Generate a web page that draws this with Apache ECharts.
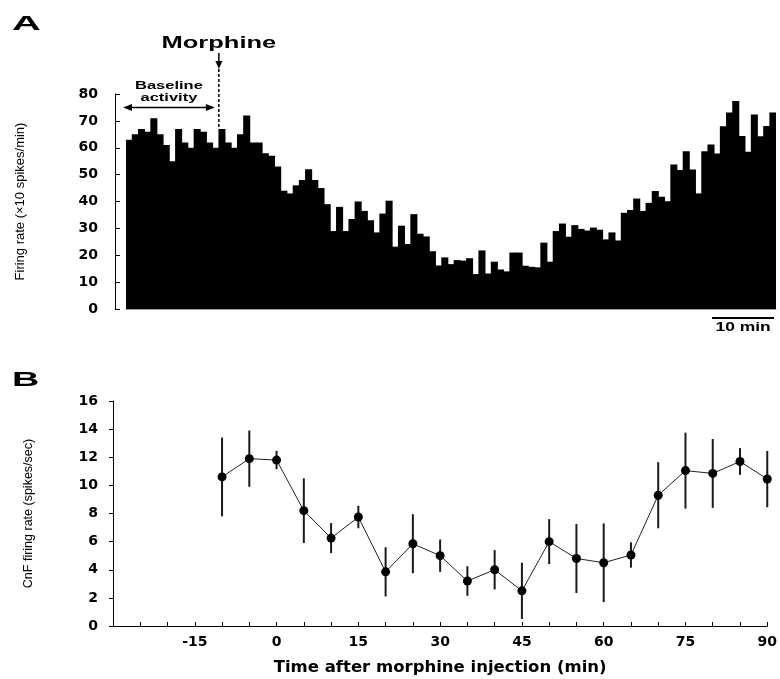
<!DOCTYPE html>
<html>
<head>
<meta charset="utf-8">
<script src="https://cdn.jsdelivr.net/npm/echarts@6/dist/echarts.min.js"></script>
<style>
  html, body { margin: 0; padding: 0; background: #fff; }
  #chart { width: 780px; height: 679px; }
</style>
</head>
<body>
<div id="chart"></div>
<script>
// Panel A: firing rate per 1-min bin (x10 spikes/min)
const binRates = [
  63, 65, 67, 66, 71, 65, 61, 55, 67, 62,
  60, 67, 66, 62, 60, 67, 62, 60, 65, 72,
  62, 62, 58, 57, 53, 44, 43, 46, 48, 52,
  48, 45, 39, 29, 38, 29, 33.5, 40, 36.5, 33,
  28.5, 35.5, 40.3, 23.2, 31, 24.2, 35.3, 28, 27, 21.5,
  16.2, 19.2, 16.7, 18.2, 18, 18.9, 13, 21.8, 13.2, 17.6,
  14.7, 14, 21, 21, 16.1, 15.7, 15.5, 24.7, 17.6, 29,
  31.8, 26.9, 31.2, 29.8, 29.2, 30.3, 29.5, 25.9, 28.5, 25.5,
  35.8, 36.8, 41.1, 36.5, 39.5, 43.9, 41.8, 40.1, 53.8, 51.7,
  58.7, 51.9, 43, 58.7, 61.2, 57.9, 68, 73.1, 77.4, 64.4,
  58.5, 72.4, 64.3, 68.1, 73.1
];
const binMinutes = binRates.map((_, i) => String(i + 1));
const morphineBin = 15;   // first bin after injection

// Panel B: mean CnF firing rate (spikes/sec) with error
const timeB = [-10, -5, 0, 5, 10, 15, 20, 25, 30, 35, 40, 45, 50, 55, 60, 65, 70, 75, 80, 85, 90];
const meanB = [10.6, 11.9, 11.8, 8.2, 6.25, 7.75, 3.85, 5.85, 5.0, 3.2, 4.0, 2.5,
               6.0, 4.8, 4.5, 5.05, 9.3, 11.05, 10.85, 11.7, 10.45];
const errB = [2.8, 2.0, 0.65, 2.3, 1.07, 0.8, 1.75, 2.1, 1.15, 1.05, 1.4, 2.0,
              1.6, 2.45, 2.8, 0.9, 2.35, 2.7, 2.45, 0.95, 2.0];

const tickFont = { color: '#000', fontFamily: 'DejaVu Sans', fontWeight: 'bold', fontSize: 14 };
const nameFont = { color: '#000', fontFamily: 'Liberation Sans', fontSize: 12.5 };

const chart = echarts.init(document.getElementById('chart'));

chart.setOption({
  animation: false,
  grid: [
    { left: 126, right: 4, top: 94, bottom: 370 },
    { left: 113, right: 10, top: 401, bottom: 53 }
  ],
  xAxis: [
    {
      type: 'category',
      gridIndex: 0,
      data: binMinutes,
      axisLine: { lineStyle: { color: '#999', width: 1 } },
      axisTick: { show: false },
      axisLabel: { show: false }
    },
    {
      type: 'value',
      gridIndex: 1,
      min: -30,
      max: 90,
      interval: 5,
      splitLine: { show: false },
      axisLine: { onZero: false, lineStyle: { color: '#000', width: 1 } },
      axisTick: { inside: true, length: 4, lineStyle: { color: '#000' } },
      axisLabel: Object.assign({}, tickFont, {
        margin: 9,
        formatter: v => (v % 15 === 0 && v > -30) ? String(v) : ''
      }),
      name: 'Time after morphine injection (min)',
      nameLocation: 'middle',
      nameGap: 33,
      nameTextStyle: { color: '#000', fontFamily: 'DejaVu Sans', fontWeight: 'bold', fontSize: 16.5 }
    }
  ],
  yAxis: [
    {
      type: 'value',
      gridIndex: 0,
      min: 0,
      max: 80,
      interval: 10,
      offset: 11,
      splitLine: { show: false },
      axisLine: { show: true, onZero: false, lineStyle: { color: '#000', width: 1 } },
      axisTick: { show: true, inside: true, length: 5, lineStyle: { color: '#000' } },
      axisLabel: Object.assign({}, tickFont, { margin: 17 }),
      name: 'Firing rate (\u00d710 spikes/min)',
      nameLocation: 'middle',
      nameGap: 88,
      nameTextStyle: Object.assign({}, nameFont, { fontSize: 13 })
    },
    {
      type: 'value',
      gridIndex: 1,
      min: 0,
      max: 16,
      interval: 2,
      splitLine: { show: false },
      axisLine: { show: true, onZero: false, lineStyle: { color: '#000', width: 1 } },
      axisTick: { show: true, length: 4, lineStyle: { color: '#000' } },
      axisLabel: Object.assign({}, tickFont, { margin: 15 }),
      name: 'CnF firing rate (spikes/sec)',
      nameLocation: 'middle',
      nameGap: 78,
      nameTextStyle: nameFont
    }
  ],
  series: [
    {
      type: 'bar',
      xAxisIndex: 0,
      yAxisIndex: 0,
      data: binRates,
      barWidth: '114%',   // slight overlap so neighbouring bins merge without hairline gaps
      itemStyle: { color: '#000' }
    },
    {
      type: 'custom',
      xAxisIndex: 1,
      yAxisIndex: 1,
      data: timeB.map((t, i) => [t, meanB[i] - errB[i], meanB[i] + errB[i]]),
      encode: { x: 0, y: [1, 2] },
      renderItem: (params, api) => {
        const lo = api.coord([api.value(0), api.value(1)]);
        const hi = api.coord([api.value(0), api.value(2)]);
        return {
          type: 'line',
          shape: { x1: lo[0], y1: lo[1], x2: hi[0], y2: hi[1] },
          style: { stroke: '#1a1a1a', lineWidth: 2 }
        };
      },
      z: 2
    },
    {
      type: 'line',
      xAxisIndex: 1,
      yAxisIndex: 1,
      data: timeB.map((t, i) => [t, meanB[i]]),
      symbol: 'circle',
      symbolSize: 9,
      lineStyle: { color: '#222', width: 1 },
      itemStyle: { color: '#000' },
      z: 3
    }
  ]
});

// annotations placed from the axis scales
const toPx = (i, v) => chart.convertToPixel({ gridIndex: 0 }, [i, v]);
const bw = toPx(1, 0)[0] - toPx(0, 0)[0];
const morphX = (toPx(morphineBin - 1, 0)[0] + toPx(morphineBin, 0)[0]) / 2;
const morphTop = toPx(morphineBin, binRates[morphineBin])[1];
const baseY = toPx(0, 75)[1];
const baseL = toPx(0, 0)[0] - bw / 2 - 3;
const baseR = morphX - 4;
const lastX = toPx(binRates.length - 1, 0)[0] + bw / 2;
const scaleL = lastX - 10 * bw - 2;
const scaleR = lastX - 2;

const label = (text, x, y, size, sx, align) => ({
  type: 'text', x: x, y: y, scaleX: sx, silent: true,
  style: {
    text: text, x: 0, y: 0, fill: '#000',
    font: 'bold ' + size + 'px "Liberation Sans", Arial, sans-serif',
    textAlign: align || 'center', textVerticalAlign: 'middle'
  }
});

chart.setOption({
  graphic: [
    label('A', 12, 24, 21, 1.9, 'left'),
    label('B', 12, 380, 21, 1.8, 'left'),
    label('Morphine', morphX, 43, 17, 1.5),
    { type: 'line', silent: true, shape: { x1: morphX, y1: 53, x2: morphX, y2: 62 },
      style: { stroke: '#000', lineWidth: 1.5 } },
    { type: 'polygon', silent: true,
      shape: { points: [[morphX - 3.5, 61], [morphX + 3.5, 61], [morphX, 69]] },
      style: { fill: '#000' } },
    { type: 'line', silent: true, shape: { x1: morphX, y1: 69, x2: morphX, y2: morphTop },
      style: { stroke: '#000', lineWidth: 1.5, lineDash: [3, 2] } },
    label('Baseline', (baseL + baseR) / 2, 86, 11, 1.5),
    label('activity', (baseL + baseR) / 2, 98, 11, 1.5),
    { type: 'line', silent: true, shape: { x1: baseL + 6, y1: baseY, x2: baseR - 6, y2: baseY },
      style: { stroke: '#000', lineWidth: 1.5 } },
    { type: 'polygon', silent: true,
      shape: { points: [[baseL, baseY], [baseL + 9, baseY - 3.5], [baseL + 9, baseY + 3.5]] },
      style: { fill: '#000' } },
    { type: 'polygon', silent: true,
      shape: { points: [[baseR, baseY], [baseR - 9, baseY - 3.5], [baseR - 9, baseY + 3.5]] },
      style: { fill: '#000' } },
    { type: 'line', silent: true, shape: { x1: scaleL, y1: 318, x2: scaleR, y2: 318 },
      style: { stroke: '#000', lineWidth: 2 } },
    label('10 min', (scaleL + scaleR) / 2, 328, 12, 1.45)
  ]
});
</script>
</body>
</html>
